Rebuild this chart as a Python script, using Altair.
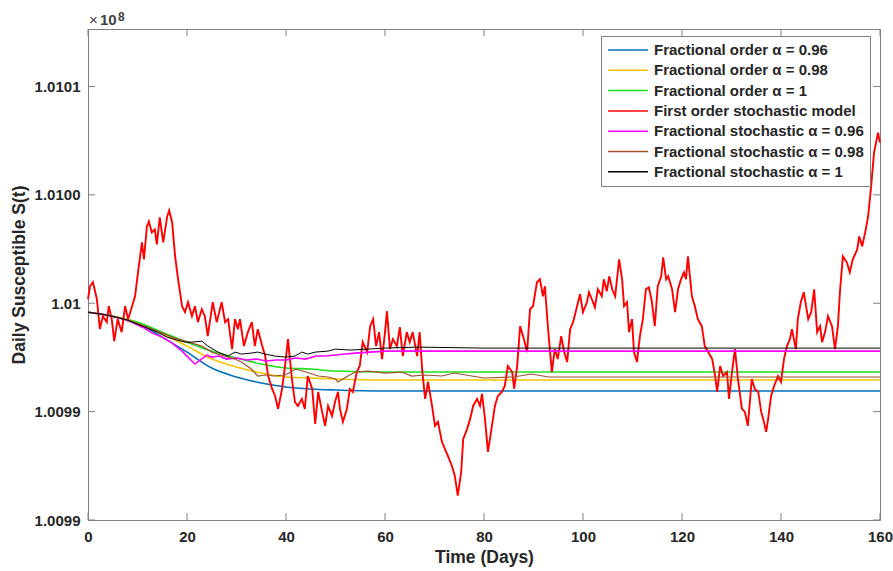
import altair as alt
import pandas as pd

FONT = "Liberation Sans"
TXT = "#262626"
AX = "#808080"

x_ticks = [0, 20, 40, 60, 80, 100, 120, 140, 160]
y_ticks = [100990000, 100995000, 101000000, 101005000, 101010000]
y_tick_labels = ["1.0099", "1.0099", "1.01", "1.0100", "1.0101"]

names = [
    "Fractional order α = 0.96",
    "Fractional order α = 0.98",
    "Fractional order α = 1",
    "First order stochastic model",
    "Fractional stochastic α = 0.96",
    "Fractional stochastic α = 0.98",
    "Fractional stochastic α = 1",
]
colors = ["#0072BD", "#F2C500", "#1EE01E", "#FF0000", "#FF00FF", "#A0522D", "#000000"]
widths = [1.6, 1.6, 1.6, 1.9, 1.6, 1.2, 1.0]
smooth = [True, True, True, False, False, False, False]

det_days = [0, 5, 10, 15, 20, 25, 30, 35, 40, 45, 50, 60, 80, 100, 120, 140, 160]
frac_096 = [100999586, 100999402, 100999080, 100998436, 100997746, 100997010, 100996596,
            100996320, 100996136, 100996044, 100995998, 100995952, 100995952, 100995952,
            100995952, 100995952, 100995952]
frac_098 = [100999586, 100999402, 100999126, 100998574, 100998022, 100997424, 100997056,
            100996780, 100996596, 100996550, 100996504, 100996458, 100996458, 100996458,
            100996458, 100996458, 100996458]
frac_100 = [100999586, 100999402, 100999126, 100998666, 100998206, 100997792, 100997470,
            100997194, 100997010, 100996964, 100996872, 100996826, 100996826, 100996826,
            100996826, 100996826, 100996826]

red_pts = [
    (0, 101000184), (0.4, 101000782), (1, 101000966), (1.8, 101000184), (2.4, 100998804),
    (3, 100999402), (3.8, 100999126), (4.2, 100999862), (4.8, 100999264), (5.3, 100998252),
    (6, 100999264), (6.8, 100998666), (7.5, 100999862), (8.1, 100999264), (8.9, 100999862),
    (9.5, 101000322), (10.1, 101001426), (10.9, 101002806), (11.3, 101002024), (11.9, 101003542),
    (12.3, 101003772), (12.9, 101003266), (13.5, 101003404), (13.9, 101002714), (14.5, 101003956),
    (15.2, 101002806), (16, 101004002), (16.4, 101004278), (17, 101003726), (17.6, 101002162),
    (18.2, 101001104), (19, 100999862), (19.6, 100999586), (20.2, 101000046), (21, 100999402),
    (21.6, 100999862), (22.2, 100999126), (23, 100999724), (23.6, 100999402), (24.2, 100998482),
    (25.2, 101000046), (26, 100999126), (27, 101000046), (27.7, 100999126), (28.3, 100999264),
    (29.1, 100997884), (29.7, 100999264), (30.3, 100998804), (30.7, 100999264), (31.5, 100998022),
    (32.3, 100998666), (33.1, 100999126), (33.7, 100998022), (34.3, 100998804), (35.2, 100998022),
    (35.8, 100997562), (36.4, 100996642), (37.2, 100996044), (37.8, 100995722), (38.4, 100995124),
    (39.2, 100996044), (39.8, 100997102), (40.4, 100998344), (41.2, 100996504), (41.8, 100995446),
    (42.4, 100995262), (43.2, 100995584), (43.8, 100995124), (44.4, 100996642), (45.3, 100996044),
    (45.9, 100994434), (46.5, 100995906), (47.3, 100994986), (47.9, 100994342), (48.5, 100995262),
    (49.3, 100994802), (49.9, 100995446), (50.5, 100995906), (50.9, 100995124), (51.5, 100994526),
    (52.3, 100995124), (52.9, 100996044), (53.5, 100995906), (54.3, 100996826), (54.9, 100997102),
    (55.5, 100998206), (56.4, 100997746), (57, 100998942), (57.6, 100999264), (58.2, 100998022),
    (58.8, 100998666), (59.4, 100997424), (60, 100998666), (60.4, 100999632), (61, 100997884),
    (61.6, 100998344), (62.4, 100998022), (63, 100998896), (63.6, 100997562), (64.4, 100998666),
    (65, 100998206), (65.6, 100998666), (66.5, 100997562), (67, 100998666), (67.5, 100996964),
    (68.1, 100995584), (68.7, 100996366), (69.5, 100995262), (70.1, 100994342), (70.7, 100994526),
    (71.5, 100993606), (72.1, 100993284), (72.7, 100992962), (73.5, 100992502), (74.1, 100992042),
    (74.7, 100991122), (75.4, 100992226), (75.8, 100993744), (76.6, 100994204), (77.2, 100994664),
    (77.8, 100995262), (78.6, 100995584), (79.2, 100995262), (79.6, 100995814), (80.2, 100994664),
    (80.8, 100993146), (81.6, 100994342), (82.2, 100995262), (82.8, 100995722), (83.6, 100995906),
    (84.2, 100996182), (84.8, 100997102), (85.7, 100996826), (86.1, 100996044), (86.7, 100997102),
    (87.3, 100998942), (87.9, 100998482), (88.7, 100997746), (89.3, 100999724), (89.9, 100999862),
    (90.7, 101000966), (91.3, 101001104), (91.9, 101000322), (92.3, 101000782), (92.9, 100998942),
    (93.7, 100996826), (94.3, 100997884), (94.9, 100997424), (95.6, 100998482), (96.2, 100997746),
    (96.8, 100997286), (97.4, 100998804), (98, 100999126), (98.8, 100999862), (99.4, 101000414),
    (100, 100999586), (100.8, 101000046), (101.2, 101000506), (101.8, 101000184), (102.4, 100999816),
    (103, 101000644), (103.8, 101000322), (104.2, 101001104), (104.8, 101000552), (105.3, 101001242),
    (105.9, 101000644), (106.5, 101000322), (107.3, 101002024), (107.9, 101001104), (108.3, 100999862),
    (108.9, 101000046), (109.3, 100998666), (109.9, 100999264), (110.3, 100997746), (110.9, 100997286),
    (111.5, 100998482), (112.1, 100999264), (112.7, 101000644), (113.3, 101000736), (113.9, 101000092),
    (114.5, 100998942), (115.1, 101000782), (115.8, 101001242), (116.2, 101002116), (116.8, 101001104),
    (117.2, 101001242), (118, 101000644), (118.6, 100999586), (119.2, 101000644), (119.8, 101001104),
    (120.4, 101001426), (120.8, 101001104), (121.2, 101002162), (122, 101000322), (122.6, 100999862),
    (123.2, 100999264), (124, 100998942), (124.6, 100998022), (125.3, 100997746), (126.1, 100997424),
    (126.7, 100996642), (127.1, 100995906), (127.7, 100997102), (128.3, 100996642), (129.1, 100996826),
    (129.5, 100995584), (130.1, 100996826), (130.7, 100997884), (131.3, 100996504), (132.1, 100995124),
    (132.7, 100994986), (133.3, 100994342), (134.1, 100996504), (134.7, 100996044), (135.4, 100995906),
    (136, 100994986), (136.4, 100994664), (137, 100994066), (137.4, 100994664), (138, 100995722),
    (138.6, 100996182), (139.4, 100996642), (140, 100996366), (140.6, 100997424), (141.2, 100998022),
    (141.8, 100998344), (142.2, 100998804), (143, 100997884), (143.4, 100999264), (144, 101000046),
    (144.6, 101000506), (145.5, 100999264), (146.1, 100999586), (146.7, 101000644), (147.3, 100998666),
    (147.9, 100998942), (148.3, 100998206), (148.9, 100998666), (149.5, 100999402), (150.3, 100998942),
    (150.9, 100997884), (151.5, 100998942), (151.9, 101000506), (152.5, 101002162), (153.3, 101001886),
    (153.9, 101001426), (154.5, 101002024), (155.4, 101002484), (155.8, 101003082), (156.4, 101002622),
    (157, 101003266), (157.6, 101004002), (158.2, 101005382), (158.8, 101006946), (159.6, 101007866),
    (160, 101007406),
]

stoch_096 = [
    (0, 100999586), (4, 100999448), (8, 100999218), (11, 100998896), (13, 100998620),
    (15, 100998436), (17, 100998160), (19, 100997792), (20.6, 100997424), (21.6, 100997194),
    (22.9, 100997424), (24, 100997608), (25, 100997516), (26.5, 100997562), (28, 100997424),
    (30, 100997470), (32, 100997378), (34, 100997424), (36, 100997332), (38, 100997378),
    (40, 100997378), (42, 100997470), (44, 100997424), (46, 100997562), (48, 100997562),
    (50, 100997608), (52, 100997654), (54, 100997700), (57, 100997746), (60, 100997792),
    (70, 100997792), (90, 100997792), (120, 100997792), (160, 100997792),
]

stoch_098 = [
    (0, 100999586), (4, 100999448), (8, 100999218), (12, 100998896), (15, 100998620),
    (17.5, 100998390), (19.6, 100998252), (21, 100998160), (23, 100998022), (25, 100997746),
    (27.7, 100997562), (29.7, 100997424), (31, 100997286), (33, 100996964), (34.3, 100996642),
    (35.8, 100996688), (37.5, 100996642), (39.8, 100996688), (42, 100996964), (44, 100996826),
    (46.5, 100996642), (48.5, 100996596), (50, 100996504), (50.5, 100996366), (52.5, 100996642),
    (54, 100996826), (56.6, 100996872), (60, 100996780), (63.4, 100996826), (65.4, 100996642),
    (68, 100996688), (71.5, 100996642), (74, 100996780), (77.5, 100996642), (80, 100996550),
    (86, 100996596), (89.6, 100996734), (93, 100996596), (110, 100996596), (130, 100996596),
    (160, 100996596),
]

stoch_100 = [
    (0, 100999586), (4, 100999448), (8, 100999218), (12, 100998850), (14, 100998666),
    (16, 100998436), (18, 100998298), (19.6, 100998206), (21, 100998206), (23, 100998252),
    (24.2, 100998022), (26.3, 100997746), (28.3, 100997562), (29.7, 100997746), (31, 100997654),
    (33, 100997700), (34.3, 100997746), (35.8, 100997654), (37.8, 100997562), (39.8, 100997516),
    (41.8, 100997562), (43.2, 100997746), (44.4, 100997654), (45.9, 100997746), (48.5, 100997792),
    (50, 100997884), (53, 100997838), (56.6, 100997884), (60, 100997930), (66.7, 100997976),
    (80, 100997930), (100, 100997930), (120, 100997930), (140, 100997930), (160, 100997930),
]

series_pts = [
    list(zip(det_days, frac_096)),
    list(zip(det_days, frac_098)),
    list(zip(det_days, frac_100)),
    red_pts,
    stoch_096,
    stoch_098,
    stoch_100,
]

label_expr = " : ".join(
    f"datum.value == {v} ? '{t}'" for v, t in zip(y_ticks, y_tick_labels)
) + " : ''"

xaxis = alt.Axis(
    values=x_ticks, title="Time (Days)", ticks=False, tickSize=0, domain=False, grid=False,
    labelFont=FONT, labelFontSize=15, labelFontWeight="bold", labelColor=TXT, labelPadding=9,
    labelFlush=False, titleFont=FONT, titleFontSize=17.5, titleFontWeight="bold",
    titleColor=TXT, titlePadding=4,
)
yaxis = alt.Axis(
    values=y_ticks, labelExpr=label_expr, title="Daily Susceptible S(t)", ticks=False,
    tickSize=0, domain=False, grid=False, labelFont=FONT, labelFontSize=15,
    labelFontWeight="bold", labelColor=TXT, labelPadding=8, labelFlush=False,
    titleFont=FONT, titleFontSize=17.5, titleFontWeight="bold", titleColor=TXT, titlePadding=6,
)

xenc = alt.X("day:Q", scale=alt.Scale(domain=[0, 160], nice=False, zero=False), axis=xaxis)
yenc = alt.Y("S:Q", scale=alt.Scale(domain=[100990000, 101012650], nice=False, zero=False),
             axis=yaxis)

legend = alt.Legend(
    title=None, orient="none", legendX=513, legendY=7, symbolType="stroke",
    symbolSize=1600, symbolStrokeWidth=1.5, clipHeight=16, rowPadding=4.3, padding=6,
    strokeColor=AX, fillColor="white", labelFont=FONT, labelFontSize=15,
    labelFontWeight="bold", labelColor=TXT, labelOffset=5, labelLimit=0,
)
cenc = alt.Color("series:N", scale=alt.Scale(domain=names, range=colors), legend=legend)

layers = []
for name, pts, w, sm in zip(names, series_pts, widths, smooth):
    df = pd.DataFrame({"day": [p[0] for p in pts], "S": [p[1] for p in pts], "series": name})
    mark = alt.Chart(df).mark_line(strokeWidth=w, interpolate="monotone" if sm else "linear")
    layers.append(mark.encode(x=xenc, y=yenc, color=cenc))

xt = pd.DataFrame({"day": x_ticks})
yt = pd.DataFrame({"S": y_ticks})
H, W, TL = 491, 792, 7
layers.append(alt.Chart(xt).mark_rule(color=AX, strokeWidth=1).encode(
    x=xenc, y=alt.value(H), y2=alt.value(H - TL)))
layers.append(alt.Chart(xt).mark_rule(color=AX, strokeWidth=1).encode(
    x=xenc, y=alt.value(0), y2=alt.value(TL)))
layers.append(alt.Chart(yt).mark_rule(color=AX, strokeWidth=1).encode(
    y=yenc, x=alt.value(0), x2=alt.value(TL)))
layers.append(alt.Chart(yt).mark_rule(color=AX, strokeWidth=1).encode(
    y=yenc, x=alt.value(W), x2=alt.value(W - TL)))

times_df = pd.DataFrame({"t": ["×"]})
ten_df = pd.DataFrame({"t": ["10"]})
exp_df = pd.DataFrame({"t": ["8"]})
layers.append(alt.Chart(times_df).mark_text(
    font=FONT, fontSize=15, color="#404040", align="left",
    baseline="alphabetic").encode(text="t:N", x=alt.value(1), y=alt.value(-4)))
layers.append(alt.Chart(ten_df).mark_text(
    font=FONT, fontSize=15, fontWeight="bold", color="#404040", align="left",
    baseline="alphabetic").encode(text="t:N", x=alt.value(12), y=alt.value(-4)))
layers.append(alt.Chart(exp_df).mark_text(
    font=FONT, fontSize=12, fontWeight="bold", color="#404040", align="left",
    baseline="alphabetic").encode(text="t:N", x=alt.value(30), y=alt.value(-8)))

chart = alt.layer(*layers).properties(
    width=W, height=H,
    padding={"left": 88, "top": 29, "right": 13, "bottom": 51},
    autosize=alt.AutoSizeParams(type="none"),
    background="white",
).configure_view(stroke=AX, strokeWidth=1)

chart.save("out.html", embed_options={"renderer": "svg", "actions": False})
